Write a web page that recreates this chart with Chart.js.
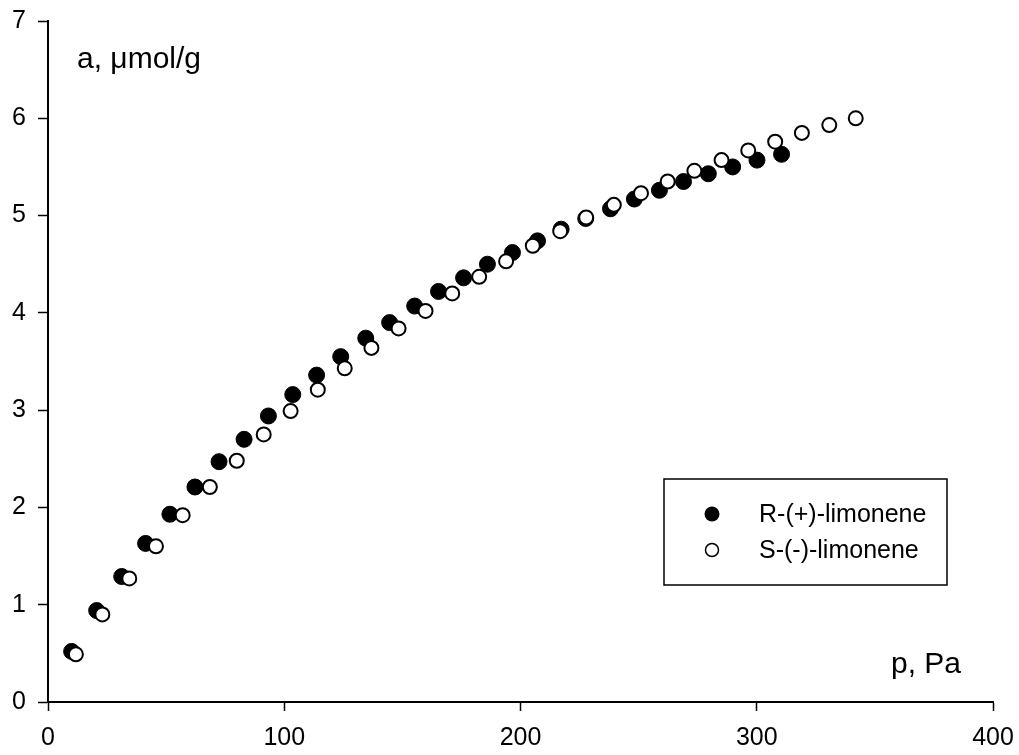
<!DOCTYPE html>
<html>
<head>
<meta charset="utf-8">
<script src="https://cdn.jsdelivr.net/npm/chart.js@4.4.1/dist/chart.umd.min.js"></script>
<style>
  html, body { margin: 0; padding: 0; background: #fff; }
  canvas { display: block; }
</style>
</head>
<body>
<canvas id="chart" width="1019" height="755"></canvas>
<script>
// R-(+)-limonene (filled circles)
const rPressure = [10.0, 20.6, 31.2, 41.3, 51.6, 62.2, 72.4, 83.0, 93.3, 103.6,
  113.7, 123.9, 134.5, 144.6, 155.2, 165.3, 175.9, 186.0, 196.6, 207.2,
  217.2, 227.6, 238.1, 248.2, 258.8, 269.0, 279.5, 289.8, 300.1, 310.5];
const rAmount = [0.52, 0.94, 1.29, 1.63, 1.93, 2.21, 2.47, 2.70, 2.94, 3.16,
  3.36, 3.55, 3.74, 3.90, 4.07, 4.22, 4.36, 4.50, 4.62, 4.74,
  4.86, 4.97, 5.07, 5.17, 5.26, 5.35, 5.43, 5.50, 5.57, 5.63];

// S-(-)-limonene (open circles)
const sPressure = [11.8, 23.0, 34.4, 45.7, 57.0, 68.5, 79.9, 91.3, 102.7, 114.2,
  125.6, 136.9, 148.4, 159.8, 171.1, 182.5, 193.9, 205.2, 216.8, 227.8,
  239.5, 251.0, 262.3, 273.6, 285.1, 296.4, 307.8, 319.1, 330.7, 341.9];
const sAmount = [0.49, 0.90, 1.27, 1.60, 1.92, 2.21, 2.48, 2.75, 2.99, 3.21,
  3.43, 3.64, 3.84, 4.02, 4.20, 4.37, 4.53, 4.69, 4.84, 4.98,
  5.11, 5.23, 5.35, 5.46, 5.57, 5.67, 5.76, 5.85, 5.93, 6.00];

const seriesNames = ['R-(+)-limonene', 'S-(-)-limonene'];
const xTitle = 'p, Pa';
const yTitle = 'a, \u03bcmol/g';

const FONT = 'Arial, "Liberation Sans", sans-serif';

function toPoints(xs, ys) {
  return xs.map((x, i) => ({ x: x, y: ys[i] }));
}

// axis titles and the boxed legend, drawn on top of the chart
const overlay = {
  id: 'overlay',
  afterDraw(chart) {
    const ctx = chart.ctx;
    ctx.save();
    ctx.fillStyle = '#000';
    ctx.font = '30px ' + FONT;
    ctx.textBaseline = 'alphabetic';
    ctx.textAlign = 'left';
    ctx.fillText(yTitle, 77, 68);
    ctx.textAlign = 'right';
    ctx.fillText(xTitle, 961, 673);

    // legend box
    ctx.lineWidth = 1.5;
    ctx.strokeStyle = '#000';
    ctx.strokeRect(664, 479, 283, 106);

    ctx.beginPath();
    ctx.arc(712, 514, 7.5, 0, Math.PI * 2);
    ctx.fill();

    ctx.beginPath();
    ctx.arc(712, 550, 6.5, 0, Math.PI * 2);
    ctx.fillStyle = '#fff';
    ctx.fill();
    ctx.stroke();

    ctx.fillStyle = '#000';
    ctx.font = '25px ' + FONT;
    ctx.textAlign = 'left';
    ctx.textBaseline = 'middle';
    ctx.fillText(seriesNames[0], 759, 515);
    ctx.fillText(seriesNames[1], 759, 551);
    ctx.restore();
  }
};

new Chart(document.getElementById('chart'), {
  type: 'scatter',
  data: {
    datasets: [{
      label: seriesNames[0],
      data: toPoints(rPressure, rAmount),
      pointRadius: 8,
      pointBackgroundColor: '#000',
      pointBorderColor: '#000',
      pointBorderWidth: 1,
      order: 1
    }, {
      label: seriesNames[1],
      data: toPoints(sPressure, sAmount),
      pointRadius: 7,
      pointBackgroundColor: '#fff',
      pointBorderColor: '#000',
      pointBorderWidth: 2,
      order: 0
    }]
  },
  options: {
    responsive: false,
    animation: false,
    events: [],
    layout: { padding: { left: 0, top: 21, right: 26, bottom: 0 } },
    plugins: {
      legend: { display: false },
      tooltip: { enabled: false }
    },
    scales: {
      x: {
        type: 'linear',
        min: 0,
        max: 400,
        afterFit(scale) {
          scale.height = 53;
          scale.paddingLeft = 0;
          scale.paddingRight = 0;
        },
        border: { display: true, color: '#000', width: 2 },
        grid: { drawOnChartArea: false, drawTicks: true, tickLength: 9, tickColor: '#000', tickWidth: 1.5 },
        ticks: { stepSize: 100, color: '#000', padding: 12, font: { family: FONT, size: 25 } }
      },
      y: {
        type: 'linear',
        min: 0,
        max: 7,
        afterFit(scale) {
          scale.width = 48;
          scale.paddingTop = 0;
          scale.paddingBottom = 0;
        },
        border: { display: true, color: '#000', width: 2 },
        grid: { drawOnChartArea: false, drawTicks: true, tickLength: 10, tickColor: '#000', tickWidth: 1.5 },
        ticks: { stepSize: 1, color: '#000', padding: 12, font: { family: FONT, size: 25 } }
      }
    }
  },
  plugins: [overlay]
});
</script>
</body>
</html>
